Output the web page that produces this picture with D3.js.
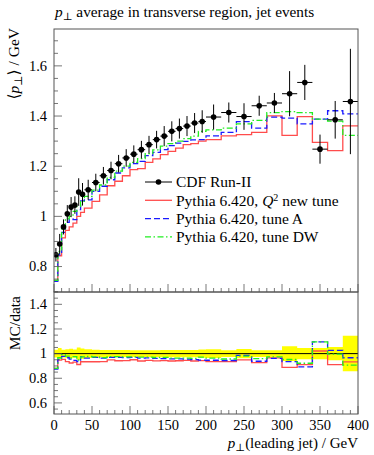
<!DOCTYPE html>
<html>
<head>
<meta charset="utf-8">
<script src="https://cdn.jsdelivr.net/npm/d3@7"></script>
<style>
  body { margin: 0; background: #fff; }
  svg text { font-family: "Liberation Serif", "DejaVu Serif", serif; fill: #000; }
</style>
</head>
<body>
<svg id="chart"></svg>
<script>
// bin edges of the leading-jet pT histogram (GeV)
const binEdges = [0, 5, 10, 15, 20, 25, 30, 35, 40,
  50, 60, 70, 80, 90, 100, 110, 120, 130, 140, 150, 160, 170, 180, 190, 200,
  220, 240, 260, 280, 300, 320, 340, 360, 380, 400];

// CDF Run-II data: mean pT in transverse region and its error
const cdfValues = [0.847, 0.89, 0.958, 1.01, 1.037, 1.045, 1.097, 1.088,
  1.106, 1.135, 1.162, 1.183, 1.21, 1.233, 1.248, 1.266, 1.286, 1.306, 1.32, 1.339, 1.35, 1.36, 1.372, 1.378,
  1.396, 1.414, 1.398, 1.441, 1.452, 1.489, 1.534, 1.268, 1.385, 1.458];
const cdfErrors = [0.027, 0.04, 0.03, 0.035, 0.04, 0.035, 0.055, 0.045,
  0.04, 0.035, 0.035, 0.035, 0.035, 0.035, 0.035, 0.035, 0.035, 0.035, 0.04, 0.04, 0.04, 0.04, 0.04, 0.045,
  0.05, 0.04, 0.053, 0.04, 0.04, 0.09, 0.07, 0.058, 0.075, 0.21];

// Pythia 6.420 predictions
const q2NewTune = [0.745, 0.843, 0.914, 0.944, 0.958, 0.973, 1.0, 1.016,
  1.033, 1.06, 1.086, 1.122, 1.14, 1.162, 1.186, 1.19, 1.215, 1.229, 1.246, 1.259, 1.272, 1.286, 1.29, 1.30,
  1.306, 1.321, 1.326, 1.335, 1.401, 1.323, 1.398, 1.295, 1.262, 1.361];
const tuneA = [0.741, 0.847, 0.936, 0.976, 0.99, 0.987, 1.027, 1.062,
  1.066, 1.1, 1.12, 1.146, 1.173, 1.193, 1.21, 1.219, 1.242, 1.255, 1.266, 1.282, 1.292, 1.299, 1.305, 1.306,
  1.321, 1.335, 1.378, 1.352, 1.396, 1.392, 1.369, 1.388, 1.421, 1.409];
const tuneDW = [0.745, 0.86, 0.95, 0.99, 1.0, 1.02, 1.04, 1.06,
  1.08, 1.105, 1.125, 1.155, 1.18, 1.2, 1.215, 1.23, 1.25, 1.265, 1.28, 1.29, 1.30, 1.31, 1.32, 1.339,
  1.345, 1.352, 1.369, 1.383, 1.414, 1.418, 1.414, 1.388, 1.38, 1.323];

const xTicks = [0, 50, 100, 150, 200, 250, 300, 350, 400];
const mainTicks = [0.8, 1, 1.2, 1.4, 1.6];
const ratioTicks = [0.6, 0.8, 1, 1.2, 1.4];

const W = 374, H = 455;
const left = 54, right = 358;
const mainTop = 29, mainBottom = 292, ratioBottom = 414;
const fs = '14.5px';

const svg = d3.select('#chart').attr('width', W).attr('height', H);

const x = d3.scaleLinear().domain([0, 400]).range([left, right]);
const y = d3.scaleLinear().domain([0.6985, 1.747]).range([mainBottom, mainTop]);
const yr = d3.scaleLinear().domain([0.51, 1.5]).range([ratioBottom, mainBottom]);

const bins = cdfValues.map((v, i) => ({
  lo: binEdges[i], hi: binEdges[i + 1], mid: (binEdges[i] + binEdges[i + 1]) / 2,
  v: v, e: cdfErrors[i]
}));

const series = [
  { name: 'q2', vals: q2NewTune, color: '#ff4c4c', dash: null },
  { name: 'A', vals: tuneA, color: '#1a1aff', dash: '6,3' },
  { name: 'DW', vals: tuneDW, color: '#22ee22', dash: '6,2.5,1.5,2.5' }
];

// clip paths
const defs = svg.append('defs');
defs.append('clipPath').attr('id', 'clipMain').append('rect')
  .attr('x', left).attr('y', mainTop).attr('width', right - left).attr('height', mainBottom - mainTop);
defs.append('clipPath').attr('id', 'clipRatio').append('rect')
  .attr('x', left).attr('y', mainBottom).attr('width', right - left).attr('height', ratioBottom - mainBottom);

function stepPoints(vals) {
  const pts = vals.map((v, i) => [binEdges[i], v]);
  pts.push([binEdges[binEdges.length - 1], vals[vals.length - 1]]);
  return pts;
}

// ---------- main panel ----------
const gMain = svg.append('g').attr('clip-path', 'url(#clipMain)');

series.forEach(s => {
  gMain.append('path')
    .datum(stepPoints(s.vals))
    .attr('fill', 'none')
    .attr('stroke', s.color)
    .attr('stroke-width', 1.3)
    .attr('stroke-dasharray', s.dash)
    .attr('d', d3.line().x(d => x(d[0])).y(d => y(d[1])).curve(d3.curveStepAfter));
});

const pts = gMain.selectAll('.pt').data(bins).enter().append('g').attr('class', 'pt');
pts.append('line')
  .attr('x1', d => x(d.lo)).attr('x2', d => x(d.hi))
  .attr('y1', d => y(d.v)).attr('y2', d => y(d.v))
  .attr('stroke', '#000').attr('stroke-width', 1);
pts.append('line')
  .attr('x1', d => x(d.mid)).attr('x2', d => x(d.mid))
  .attr('y1', d => y(d.v - d.e)).attr('y2', d => y(d.v + d.e))
  .attr('stroke', '#000').attr('stroke-width', 1);
pts.append('circle')
  .attr('cx', d => x(d.mid)).attr('cy', d => y(d.v)).attr('r', 2.8).attr('fill', '#000');

// ---------- ratio panel ----------
const gRatio = svg.append('g').attr('clip-path', 'url(#clipRatio)');

const bandArea = d3.area()
  .x(d => x(d[0]))
  .y0(d => yr(1 - d[1]))
  .y1(d => yr(1 + d[1]))
  .curve(d3.curveStepAfter);
const bandPts = bins.map(b => [b.lo, b.e / b.v]);
bandPts.push([400, bins[bins.length - 1].e / bins[bins.length - 1].v]);
gRatio.append('path').datum(bandPts).attr('fill', '#ffff00').attr('d', bandArea);

gRatio.append('line')
  .attr('x1', left).attr('x2', right).attr('y1', yr(1)).attr('y2', yr(1))
  .attr('stroke', '#000').attr('stroke-width', 1);

series.forEach(s => {
  const ratio = s.vals.map((v, i) => v / cdfValues[i]);
  gRatio.append('path')
    .datum(stepPoints(ratio))
    .attr('fill', 'none')
    .attr('stroke', s.color)
    .attr('stroke-width', 1.3)
    .attr('stroke-dasharray', s.dash)
    .attr('d', d3.line().x(d => x(d[0])).y(d => yr(d[1])).curve(d3.curveStepAfter));
});

// ---------- frames and ticks ----------
const frameColor = '#555';
[[mainTop, mainBottom], [mainBottom, ratioBottom]].forEach(([t, b]) => {
  svg.append('rect')
    .attr('x', left).attr('y', t).attr('width', right - left).attr('height', b - t)
    .attr('fill', 'none').attr('stroke', frameColor).attr('stroke-width', 1);
});

function xTickMarks(yb) {
  const g = svg.append('g');
  d3.range(0, 401, 10).forEach(v => {
    const major = v % 50 === 0;
    g.append('line')
      .attr('x1', x(v)).attr('x2', x(v))
      .attr('y1', yb).attr('y2', yb - (major ? 8 : 4))
      .attr('stroke', frameColor).attr('stroke-width', 0.8);
  });
}
xTickMarks(mainBottom);
xTickMarks(ratioBottom);

function yTickMarks(scale, lo, hi, majors) {
  const g = svg.append('g');
  d3.range(Math.round(lo * 20), Math.round(hi * 20) + 1).forEach(k => {
    const v = k / 20;
    const yy = scale(v);
    if (yy < scale.range()[1] - 0.5 || yy > scale.range()[0] + 0.5) return;
    const major = majors.some(m => Math.abs(m - v) < 1e-6);
    g.append('line')
      .attr('x1', left).attr('x2', left + (major ? 8 : 4))
      .attr('y1', yy).attr('y2', yy)
      .attr('stroke', frameColor).attr('stroke-width', 0.8);
  });
  g.selectAll('text').data(majors).enter().append('text')
    .attr('x', left - 7).attr('y', d => scale(d)).attr('dy', '0.33em')
    .attr('text-anchor', 'end').style('font-size', fs)
    .text(d => d3.format('')(d));
}
yTickMarks(y, 0.7, 1.75, mainTicks);
yTickMarks(yr, 0.5, 1.5, ratioTicks);

svg.append('g').selectAll('text').data(xTicks).enter().append('text')
  .attr('x', d => x(d)).attr('y', 429.5)
  .attr('text-anchor', 'middle').style('font-size', fs)
  .text(d => d);

// ---------- labels ----------
const title = svg.append('text').attr('x', 55).attr('y', 17).style('font-size', '15.3px');
title.append('tspan').style('font-style', 'italic').text('p');
title.append('tspan').attr('dy', 3).style('font-size', '10.5px').text('⊥');
title.append('tspan').attr('dy', -3).text(' average in transverse region, jet events');

const yLab = svg.append('text')
  .attr('transform', 'translate(19,28) rotate(-90)')
  .attr('text-anchor', 'end').style('font-size', '15.5px');
yLab.append('tspan').text('⟨');
yLab.append('tspan').style('font-style', 'italic').text('p');
yLab.append('tspan').attr('dy', 3).style('font-size', '11px').text('⊥');
yLab.append('tspan').attr('dy', -3).text('⟩ / GeV');

svg.append('text')
  .attr('transform', 'translate(20,296) rotate(-90)')
  .attr('text-anchor', 'end').style('font-size', '15.5px')
  .text('MC/data');

const xLab = svg.append('text').attr('x', right).attr('y', 448)
  .attr('text-anchor', 'end').style('font-size', '15px');
xLab.append('tspan').style('font-style', 'italic').text('p');
xLab.append('tspan').attr('dy', 3).style('font-size', '10.5px').text('⊥');
xLab.append('tspan').attr('dy', -3).text('(leading jet) / GeV');

// ---------- legend ----------
const legend = svg.append('g');
const legX0 = 145, legX1 = 172, legText = 176, legY = 182, legStep = 18.3;
const legFs = '15.5px';

legend.append('line')
  .attr('x1', legX0).attr('x2', legX1).attr('y1', legY).attr('y2', legY)
  .attr('stroke', '#000').attr('stroke-width', 1);
legend.append('circle').attr('cx', (legX0 + legX1) / 2).attr('cy', legY).attr('r', 2.8).attr('fill', '#000');
legend.append('text').attr('x', legText).attr('y', legY).attr('dy', '0.35em')
  .style('font-size', legFs).text('CDF Run-II');

const legLabels = [
  ['Pythia 6.420, ', 'Q', '2', ' new tune'],
  ['Pythia 6.420, tune A'],
  ['Pythia 6.420, tune DW']
];
series.forEach((s, i) => {
  const yy = legY + legStep * (i + 1);
  legend.append('line')
    .attr('x1', legX0).attr('x2', legX1).attr('y1', yy).attr('y2', yy)
    .attr('stroke', s.color).attr('stroke-width', 1.3)
    .attr('stroke-dasharray', s.dash);
  const t = legend.append('text').attr('x', legText).attr('y', yy).attr('dy', '0.35em')
    .style('font-size', legFs);
  const parts = legLabels[i];
  if (parts.length === 1) {
    t.text(parts[0]);
  } else {
    t.append('tspan').text(parts[0]);
    t.append('tspan').style('font-style', 'italic').text(parts[1]);
    t.append('tspan').attr('dy', -5).style('font-size', '10px').text(parts[2]);
    t.append('tspan').attr('dy', 5).text(parts[3]);
  }
});
</script>
</body>
</html>
